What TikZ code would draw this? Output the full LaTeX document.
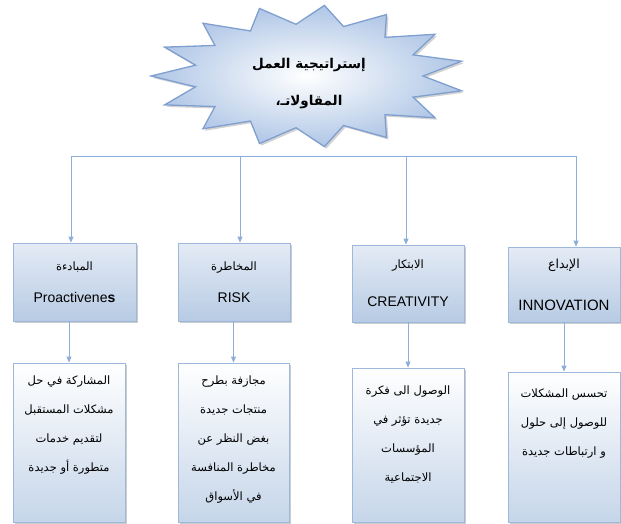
\documentclass[tikz,border=0pt]{standalone}
\usepackage{fontspec}
\setmainfont{Liberation Sans}
\newfontfamily\arabicfont[Script=Arabic]{DejaVu Sans}
\TeXXeTstate=1
\usetikzlibrary{arrows.meta,positioning,shadows}
\newcommand{\artxt}[1]{{\arabicfont\beginR #1\endR}}
\definecolor{lineblue}{HTML}{8EAEDA}
\definecolor{boxedge}{HTML}{9DB8DB}
\definecolor{boxfill}{HTML}{B7CBE4}
\definecolor{boxtop}{HTML}{E4EBF5}
\definecolor{starfill}{HTML}{AFC6E6}
\definecolor{staredge}{HTML}{7E9FCF}

\begin{document}
\begin{tikzpicture}[
  x=1pt, y=-1pt,
  >={Triangle[width=5pt,length=6pt]},
  head/.style={
    draw=boxedge, thick, top color=boxtop, bottom color=boxfill,
    drop shadow={shadow xshift=1.6pt, shadow yshift=-1.6pt, fill=black!40},
    align=center, inner sep=2pt,
    font=\fontsize{14}{16}\selectfont
  },
  desc/.style={
    draw=boxedge, thick, top color=white, bottom color=boxfill!80,
    drop shadow={shadow xshift=1.6pt, shadow yshift=-1.6pt, fill=black!40},
    inner sep=0pt
  },
  desctxt/.style={align=center, inner sep=0pt,
    font=\arabicfont\fontsize{11.5}{29}\selectfont},
  burst/.style={draw=staredge, line width=1.3pt, line join=miter,
    shading=radial, inner color=white, outer color=starfill,
    drop shadow={shadow xshift=2pt, shadow yshift=-2pt, fill=black!35}},
  title/.style={align=center, inner sep=0pt,
    font=\arabicfont\bfseries\fontsize{13.5}{37}\selectfont},
  link/.style={->, lineblue, thick},
  bus/.style={lineblue, thick}
]
\useasboundingbox (0,0) rectangle (621,523);

% النجمة --- العنوان
\coordinate (starc) at (308,76);
\draw[burst, shift={(starc)}] (84:157 and 71)
  \foreach \a in {84,108,...,420} { -- (\a+12:115 and 52) -- (\a+24:157 and 71) } -- cycle;
\node[title] (core) at (309,84)
  {\artxt{إستراتيجية العمل}\\ \artxt{المقاولاتـ،}};

% الصف الأول
\node[head, minimum width=123pt, minimum height=78pt] (h1) at (74.5,282)
  {\artxt{\fontsize{11.5}{13}\selectfont المبادءة}\\[16pt] Proactivene\textbf{s}};
\node[head, minimum width=112pt, minimum height=78pt] (h2) at (234,282)
  {\artxt{\fontsize{11.5}{13}\selectfont المخاطرة}\\[16pt] RISK};
\node[head, minimum width=112pt, minimum height=77pt] (h3) at (408,283.5)
  {\artxt{\fontsize{11.5}{13}\selectfont الابتكار}\\[22pt] CREATIVITY};
\node[head, minimum width=112pt, minimum height=75pt, font=\fontsize{15}{17}\selectfont] (h4) at (564,284.5)
  {\artxt{\fontsize{12.5}{14}\selectfont الإبداع}\\[25pt] INNOVATION};

% الصف الثاني
\node[desc, minimum width=112pt, minimum height=159pt] (l1) at (69,442.5) {};
\node[desc, minimum width=111pt, minimum height=159pt] (l2) at (233.5,442.5) {};
\node[desc, minimum width=112pt, minimum height=154pt] (l3) at (408,445) {};
\node[desc, minimum width=112pt, minimum height=150pt] (l4) at (564,447) {};

\node[desctxt, below=13pt of l1.north] (t1)
  {\artxt{المشاركة في حل}\\ \artxt{مشكلات المستقبل}\\ \artxt{لتقديم خدمات}\\ \artxt{متطورة أو جديدة}};
\node[desctxt, below=13pt of l2.north] (t2)
  {\artxt{مجازفة بطرح}\\ \artxt{منتجات جديدة}\\ \artxt{بغض النظر عن}\\ \artxt{مخاطرة المنافسة}\\ \artxt{في الأسواق}};
\node[desctxt, below=18pt of l3.north] (t3)
  {\artxt{الوصول الى فكرة}\\ \artxt{جديدة تؤثر في}\\ \artxt{المؤسسات}\\ \artxt{الاجتماعية}};
\node[desctxt, below=17pt of l4.north] (t4)
  {\artxt{تحسس المشكلات}\\ \artxt{للوصول إلى حلول}\\ \artxt{و ارتباطات جديدة}};

% الروابط
\coordinate (bus1) at (71,156);
\coordinate (bus2) at (240,156);
\coordinate (bus3) at (406,156);
\coordinate (bus4) at (576,156);
\draw[bus] (bus1) -- (bus4);
\draw[link] (bus1) -- (bus1 |- h1.north);
\draw[link] (bus2) -- (bus2 |- h2.north);
\draw[link] (bus3) -- (bus3 |- h3.north);
\draw[link] (bus4) -- (bus4 |- h4.north);
\draw[link] (l1.north |- h1.south) -- (l1.north);
\draw[link] (l2.north |- h2.south) -- (l2.north);
\draw[link] (l3.north |- h3.south) -- (l3.north);
\draw[link] (l4.north |- h4.south) -- (l4.north);
\end{tikzpicture}
\end{document}
